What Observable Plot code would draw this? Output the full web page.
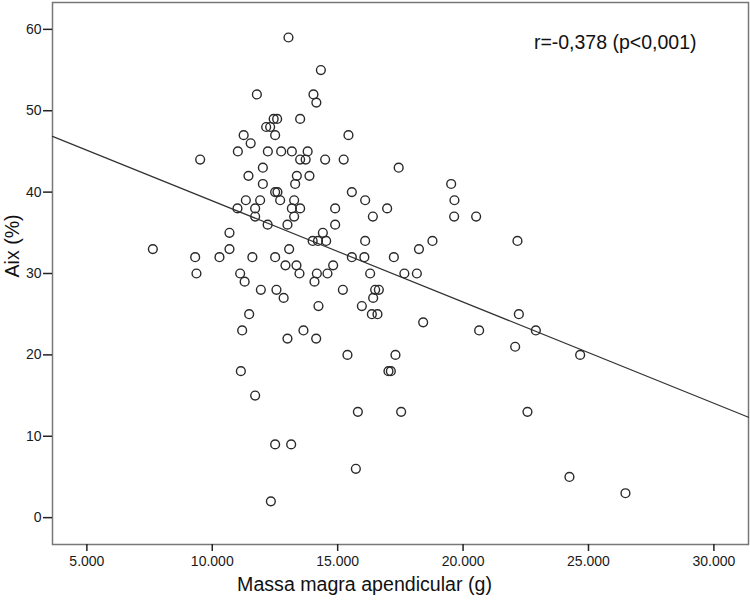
<!DOCTYPE html>
<html>
<head>
<meta charset="utf-8">
<script src="https://cdn.jsdelivr.net/npm/d3@7"></script>
<script src="https://cdn.jsdelivr.net/npm/@observablehq/plot@0.6"></script>
<style>
  html, body { margin: 0; padding: 0; background: #fff; }
  #chart { width: 750px; height: 602px; }
</style>
</head>
<body>
<div id="chart"></div>
<script>
// Massa magra apendicular (g)
const massa = [
  13038, 14330, 11778, 14035, 14150, 12448, 12587, 13504, 12149, 12308,
  12507, 11252, 15430, 11531, 11020, 12216, 12747, 13173, 13803, 9517,
  13504, 13724, 14501, 15239, 17432, 12017, 11443, 13372, 13875, 12017,
  13305, 19525, 12507, 12599, 15565, 11339, 11909, 12707, 13265, 16096,
  19656, 11005, 11710, 13173, 13504, 14900, 16973, 11710, 13265, 16403,
  19644, 20521, 12208, 12998, 14900, 10686, 14409, 14003, 14214, 14541,
  16096, 18779, 22168, 7631, 10686, 13066, 18241, 9318, 10287, 11599,
  12507, 15565, 16064, 17240, 12918, 13357, 14820, 9370, 11112, 13477,
  14170, 14593, 16295, 17659, 18157, 11291, 14075, 11937, 12559, 15207,
  16495, 16642, 12846, 16415, 14234, 15964, 11471, 16363, 16587, 22224,
  18409, 11192, 13636, 20641, 22901, 12998, 14143, 22077, 15390, 17304,
  24668, 11140, 17025, 17120, 11710, 15805, 17531, 22567, 12507, 13146,
  15725, 24241, 26474, 12336
];
// Aix (%)
const aix = [
  59, 55, 52, 52, 51, 49, 49, 49, 48, 48,
  47, 47, 47, 46, 45, 45, 45, 45, 45, 44,
  44, 44, 44, 44, 43, 43, 42, 42, 42, 41,
  41, 41, 40, 40, 40, 39, 39, 39, 39, 39,
  39, 38, 38, 38, 38, 38, 38, 37, 37, 37,
  37, 37, 36, 36, 36, 35, 35, 34, 34, 34,
  34, 34, 34, 33, 33, 33, 33, 32, 32, 32,
  32, 32, 32, 32, 31, 31, 31, 30, 30, 30,
  30, 30, 30, 30, 30, 29, 29, 28, 28, 28,
  28, 28, 27, 27, 26, 26, 25, 25, 25, 25,
  24, 23, 23, 23, 23, 22, 22, 21, 20, 20,
  20, 18, 18, 18, 15, 13, 13, 13, 9, 9,
  6, 5, 3, 2
];
// linear fit (intercept, slope)
const fitIntercept = [51.37];
const fitSlope = [-0.001244];

const xTicks = [5000, 10000, 15000, 20000, 25000, 30000];
const yTicks = [0, 10, 20, 30, 40, 50, 60];
const xTitle = ["Massa magra apendicular (g)"];
const yTitle = ["Aix (%)"];
const annotation = ["r=-0,378 (p<0,001)"];

const xDomain = [3630, 31380];
const yDomain = [-3.3, 63.3];

const points = massa.map((m, i) => ({x: m, y: aix[i]}));
const fit = xDomain.map(x => ({x, y: fitIntercept[0] + fitSlope[0] * x}));

const ptBR = d3.formatLocale({decimal: ",", thousands: ".", grouping: [3], currency: ["", ""]});
const fmt = ptBR.format(",.0f");

const font = "'Liberation Sans', Arial, sans-serif";

const chart = Plot.plot({
  width: 750,
  height: 602,
  marginLeft: 52,
  marginRight: 2,
  marginTop: 2,
  marginBottom: 58,
  style: {fontFamily: font, background: "#fff", color: "#1a1a1a"},
  x: {domain: xDomain},
  y: {domain: yDomain},
  marks: [
    Plot.frame({stroke: "#777", strokeWidth: 1.5}),
    Plot.line(fit, {x: "x", y: "y", stroke: "#333", strokeWidth: 1.2}),
    Plot.dot(points, {x: "x", y: "y", r: 4.4, stroke: "#2a2a2a", strokeWidth: 1.4, fill: "none"}),
    Plot.axisX({ticks: xTicks, tickFormat: fmt, tickSize: 7, tickPadding: 5, fontSize: 14, label: null, line: true, stroke: "#222", strokeWidth: 1.5}),
    Plot.axisY({ticks: yTicks, tickSize: 9, tickPadding: 2, fontSize: 14, label: null, line: true, stroke: "#222", strokeWidth: 1.5}),
    Plot.text(xTitle, {frameAnchor: "bottom", dx: -36, dy: 46, fontSize: 19.6, fill: "#111", text: d => d}),
    Plot.text(yTitle, {frameAnchor: "left", rotate: -90, dx: -40, dy: 4, fontSize: 19.6, fill: "#111", text: d => d}),
    Plot.text(annotation, {frameAnchor: "top-right", textAnchor: "end", dx: -52, dy: 33, fontSize: 19.5, fill: "#111", text: d => d})
  ]
});
document.getElementById("chart").appendChild(chart);
</script>
</body>
</html>
